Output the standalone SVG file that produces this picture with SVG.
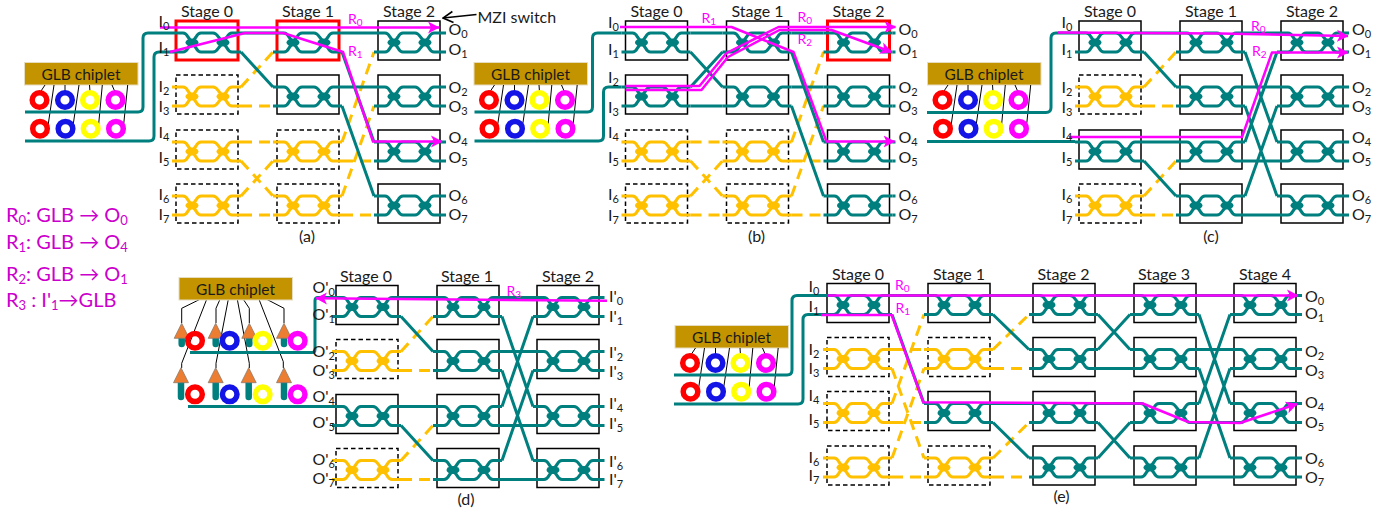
<svg xmlns="http://www.w3.org/2000/svg" width="1391" height="514" viewBox="0 0 1391 514">
<style>
text{font-family:Lato,"Open Sans","DejaVu Sans",sans-serif;font-size:16px;fill:#1a1a1a}
.sub{font-size:11px}
.st{text-anchor:middle}
.cap{text-anchor:middle;font-size:16px}
.chipt{text-anchor:middle;font-size:15.5px}
.rl{fill:#ff00ff;font-size:14px}
.rl .sub{font-size:10px}
.leg{fill:#cc00cc;font-size:20px}
.leg .sub{font-size:13px}
.tc,.oc,.route,.thin{fill:none}
.tc{stroke:#007f7f;stroke-width:3;stroke-linejoin:round}
.oc{stroke:#ffc000;stroke-width:3;stroke-dasharray:11 7}
.route{stroke:#ff00ff;stroke-width:2.5;stroke-linejoin:round}
.arr{marker-end:url(#ah)}
.thin{stroke:#000;stroke-width:1}
.bx{fill:none;stroke:#000;stroke-width:1.5}
.bd{fill:none;stroke:#000;stroke-width:1.5;stroke-dasharray:4.5 3}
.br{fill:none;stroke:#ff0000;stroke-width:3}
.chip{fill:#c49400;stroke:#e6dcc0;stroke-width:1}
.amp{fill:#ed7d31;stroke:#8a7a6a;stroke-width:.8}
.stem{stroke:#007f7f;stroke-width:6.5;stroke-linecap:round;fill:none}
</style>
<defs>
<marker id="ah" markerUnits="userSpaceOnUse" markerWidth="12" markerHeight="14" refX="11" refY="7" orient="auto"><path d="M0 1L11.5 7 0 13 3 7z" fill="#ff00ff"/></marker>
<marker id="bh" markerUnits="userSpaceOnUse" markerWidth="12" markerHeight="14" refX="11" refY="7" orient="auto"><path d="M1 1.5L11 7 1 12.5" fill="none" stroke="#000" stroke-width="1.6"/></marker>
<g id="mzi" fill="none" stroke="currentColor" stroke-width="3" stroke-linejoin="round">
<path d="M-4 0H7Q10 0 12 4L16 9.5 20 15Q22 19 25 19H37Q40 19 42.5 15L47 9.5 51 4Q53 0 56 0H65"/>
<path d="M-4 19H7Q10 19 12 15L16 9.5 20 4Q22 0 25 0H37Q40 0 42.5 4L47 9.5 51 15Q53 19 56 19H65"/>
<ellipse cx="16" cy="9.5" rx="6.5" ry="4" fill="currentColor" stroke="none"/>
<ellipse cx="47" cy="9.5" rx="6.5" ry="4" fill="currentColor" stroke="none"/>
</g>
<g id="nt" color="#007f7f"><rect class="bx" x="0" y="-12" width="62" height="39"/><use href="#mzi"/></g>
<g id="nr" color="#007f7f"><rect class="br" x="0" y="-12" width="62" height="39"/><use href="#mzi"/></g>
<g id="no" color="#ffc000"><rect class="bd" x="0" y="-12" width="62" height="39"/><use href="#mzi"/></g>
<g id="rings" fill="none" stroke-width="5.5">
<circle cx="39.5" cy="100" r="7.3" stroke="#ff0000"/><circle cx="65" cy="100" r="7.3" stroke="#1414e6"/><circle cx="90" cy="100" r="7.3" stroke="#ffff00"/><circle cx="115.5" cy="100" r="7.3" stroke="#ff00ff"/>
<circle cx="40" cy="128.7" r="7.3" stroke="#ff0000"/><circle cx="65.5" cy="128.7" r="7.3" stroke="#1414e6"/><circle cx="90.7" cy="128.7" r="7.3" stroke="#ffff00"/><circle cx="116" cy="128.7" r="7.3" stroke="#ff00ff"/>
</g>
<path id="taps" class="thin" d="M45 85L40 92.5M65 85V92M89.5 85L90 92M112 85L115 92M54 85L47.7 128M79 85L72.7 128M102.3 85L98.3 128M127.7 85L123.3 128"/>
<g id="ringsd" fill="none" stroke-width="5.5">
<circle cx="195" cy="340.7" r="7.3" stroke="#ff0000"/><circle cx="229.7" cy="340.7" r="7.3" stroke="#1414e6"/><circle cx="262.7" cy="340.7" r="7.3" stroke="#ffff00"/><circle cx="297.7" cy="340.7" r="7.3" stroke="#ff00ff"/>
<circle cx="195" cy="394.3" r="7.3" stroke="#ff0000"/><circle cx="229.7" cy="394.3" r="7.3" stroke="#1414e6"/><circle cx="262.7" cy="394.3" r="7.3" stroke="#ffff00"/><circle cx="297.7" cy="394.3" r="7.3" stroke="#ff00ff"/>
</g>
</defs>
<rect width="1391" height="514" fill="#fff"/>

<g id="panel-a">
<g id="a-chip"><rect class="chip" x="24.5" y="62.5" width="113.5" height="22.5"/><text class="chipt" x="81" y="79.5">GLB chiplet</text><use href="#taps"/><use href="#rings"/></g>
<g id="a-connectors">
<path class="tc" d="M25 112H138Q143 112 143 107V38Q143 33 148 33H172M25 141H149Q154 141 154 136V57Q154 52 159 52H172"/>
<path class="oc" d="M241 87L273 52M241 106H273M241 142H273M241 161L273 196M241 196L273 161M241 215H273M342 142L374 52M342 161H374M342 196L374 106M342 215H374"/>
<path class="tc" d="M241 33H273M241 52L273 87M342 33H374M342 52L374 142M342 87H374M342 106L374 196M443 33H446M443 52H446M443 87H446M443 106H446M443 142H446M443 161H446M443 196H446M443 215H446"/>
</g>
<g id="a-s0-0"><use href="#nr" x="176" y="33"/></g><g id="a-s0-1"><use href="#no" x="176" y="87"/></g><g id="a-s0-2"><use href="#no" x="176" y="142"/></g><g id="a-s0-3"><use href="#no" x="176" y="196"/></g>
<g id="a-s1-0"><use href="#nr" x="277" y="33"/></g><g id="a-s1-1"><use href="#nt" x="277" y="87"/></g><g id="a-s1-2"><use href="#no" x="277" y="142"/></g><g id="a-s1-3"><use href="#no" x="277" y="196"/></g>
<g id="a-s2-0"><use href="#nt" x="378" y="33"/></g><g id="a-s2-1"><use href="#nt" x="378" y="87"/></g><g id="a-s2-2"><use href="#nt" x="378" y="142"/></g><g id="a-s2-3"><use href="#nt" x="378" y="196"/></g>
<g id="a-routes"><path class="route arr" d="M160 27.5H439"/><path class="route arr" d="M170 52L245 33H283L343 52 373 141.5H442"/></g>
<g id="a-labels">
<text class="st" x="207" y="17">Stage 0</text><text class="st" x="308" y="17">Stage 1</text><text class="st" x="409" y="17">Stage 2</text>
<text x="158.5" y="27">I<tspan class="sub" dy="3">0</tspan></text><text x="158.5" y="53">I<tspan class="sub" dy="3">1</tspan></text><text x="158.5" y="92">I<tspan class="sub" dy="3">2</tspan></text><text x="158.5" y="112">I<tspan class="sub" dy="3">3</tspan></text><text x="158.5" y="138">I<tspan class="sub" dy="3">4</tspan></text><text x="158.5" y="163">I<tspan class="sub" dy="3">5</tspan></text><text x="158.5" y="200">I<tspan class="sub" dy="3">6</tspan></text><text x="158.5" y="220">I<tspan class="sub" dy="3">7</tspan></text>
<text x="448.5" y="35">O<tspan class="sub" dy="3">0</tspan></text><text x="448.5" y="55">O<tspan class="sub" dy="3">1</tspan></text><text x="448.5" y="92.5">O<tspan class="sub" dy="3">2</tspan></text><text x="448.5" y="111.5">O<tspan class="sub" dy="3">3</tspan></text><text x="448.5" y="142.5">O<tspan class="sub" dy="3">4</tspan></text><text x="448.5" y="163">O<tspan class="sub" dy="3">5</tspan></text><text x="448.5" y="201">O<tspan class="sub" dy="3">6</tspan></text><text x="448.5" y="220">O<tspan class="sub" dy="3">7</tspan></text>
<text class="rl" x="348" y="24">R<tspan class="sub" dy="2">0</tspan></text><text class="rl" x="348" y="56">R<tspan class="sub" dy="2">1</tspan></text>
<text class="cap" x="307" y="242">(a)</text>
</g>
</g>

<g id="mzi-note"><path d="M476.5 14.5L443 18" fill="none" stroke="#000" stroke-width="1.6" marker-end="url(#bh)"/><text x="477.5" y="23">MZI switch</text></g>

<g id="panel-b" transform="translate(449.5 0)">
<g id="b-chip"><rect class="chip" x="24.5" y="62.5" width="113.5" height="22.5"/><text class="chipt" x="81" y="79.5">GLB chiplet</text><use href="#taps"/><use href="#rings"/></g>
<g id="b-connectors">
<path class="tc" d="M25 112H138Q143 112 143 107V38Q143 33 148 33H172M25 141H149Q154 141 154 136V92Q154 87 159 87H172"/>
<path class="oc" d="M241 142H273M241 161L273 196M241 196L273 161M241 215H273M342 142L374 52M342 161H374M342 196L374 106M342 215H374"/>
<path class="tc" d="M241 33H273M241 52L273 87M241 87L273 52M241 106H273M342 33H374M342 52L374 142M342 87H374M342 106L374 196M443 33H446M443 52H446M443 87H446M443 106H446M443 142H446M443 161H446M443 196H446M443 215H446"/>
</g>
<g id="b-s0-0"><use href="#nt" x="176" y="33"/></g><g id="b-s0-1"><use href="#nt" x="176" y="87"/></g><g id="b-s0-2"><use href="#no" x="176" y="142"/></g><g id="b-s0-3"><use href="#no" x="176" y="196"/></g>
<g id="b-s1-0"><use href="#nt" x="277" y="33"/></g><g id="b-s1-1"><use href="#nt" x="277" y="87"/></g><g id="b-s1-2"><use href="#no" x="277" y="142"/></g><g id="b-s1-3"><use href="#no" x="277" y="196"/></g>
<g id="b-s2-0"><use href="#nr" x="378" y="33"/></g><g id="b-s2-1"><use href="#nt" x="378" y="87"/></g><g id="b-s2-2"><use href="#nt" x="378" y="142"/></g><g id="b-s2-3"><use href="#nt" x="378" y="196"/></g>
<g id="b-routes"><path class="route arr" d="M170.5 27H282L344 52 377 141.5H445"/><path class="route arr" d="M176 86H250L277 53 329 27H446"/><path class="route arr" d="M176 90H252L278.5 57 330 30H382L442 52"/></g>
<g id="b-labels">
<text class="st" x="207" y="17">Stage 0</text><text class="st" x="308" y="17">Stage 1</text><text class="st" x="409" y="17">Stage 2</text>
<text x="158.5" y="28">I<tspan class="sub" dy="3">0</tspan></text><text x="158.5" y="55">I<tspan class="sub" dy="3">1</tspan></text><text x="158.5" y="83">I<tspan class="sub" dy="3">2</tspan></text><text x="158.5" y="112.5">I<tspan class="sub" dy="3">3</tspan></text><text x="158.5" y="138">I<tspan class="sub" dy="3">4</tspan></text><text x="158.5" y="163">I<tspan class="sub" dy="3">5</tspan></text><text x="158.5" y="200">I<tspan class="sub" dy="3">6</tspan></text><text x="158.5" y="220.5">I<tspan class="sub" dy="3">7</tspan></text>
<text x="449" y="35">O<tspan class="sub" dy="3">0</tspan></text><text x="449" y="55">O<tspan class="sub" dy="3">1</tspan></text><text x="449" y="92.5">O<tspan class="sub" dy="3">2</tspan></text><text x="449" y="111.5">O<tspan class="sub" dy="3">3</tspan></text><text x="449" y="142.5">O<tspan class="sub" dy="3">4</tspan></text><text x="449" y="163">O<tspan class="sub" dy="3">5</tspan></text><text x="449" y="201">O<tspan class="sub" dy="3">6</tspan></text><text x="449" y="220">O<tspan class="sub" dy="3">7</tspan></text>
<text class="rl" x="252" y="23">R<tspan class="sub" dy="2">1</tspan></text><text class="rl" x="348" y="22">R<tspan class="sub" dy="2">0</tspan></text><text class="rl" x="348" y="44">R<tspan class="sub" dy="2">2</tspan></text>
<text class="cap" x="307" y="242">(b)</text>
</g>
</g>

<g id="panel-c" transform="translate(903 0)">
<g id="c-chip"><rect class="chip" x="24.5" y="62.5" width="113.5" height="22.5"/><text class="chipt" x="81" y="79.5">GLB chiplet</text><use href="#taps"/><use href="#rings"/></g>
<g id="c-connectors">
<path class="tc" d="M24 112.5H143Q148 112.5 148 107.5V38Q148 33 153 33H172M24 141.5H172"/>
<path class="oc" d="M241 87L273 52M241 106H273M241 196L273 161M241 215H273"/>
<path class="tc" d="M241 33H273M241 52L273 87M241 142H273M241 161L273 196M342 33H374M342 52L374 142M342 87H374M342 106L374 196M342 142L374 52M342 161H374M342 196L374 106M342 215H374M443 33H446M443 52H446M443 87H446M443 106H446M443 142H446M443 161H446M443 196H446M443 215H446"/>
</g>
<g id="c-s0-0"><use href="#nt" x="176" y="33"/></g><g id="c-s0-1"><use href="#no" x="176" y="87"/></g><g id="c-s0-2"><use href="#nt" x="176" y="142"/></g><g id="c-s0-3"><use href="#no" x="176" y="196"/></g>
<g id="c-s1-0"><use href="#nt" x="277" y="33"/></g><g id="c-s1-1"><use href="#nt" x="277" y="87"/></g><g id="c-s1-2"><use href="#nt" x="277" y="142"/></g><g id="c-s1-3"><use href="#nt" x="277" y="196"/></g>
<g id="c-s2-0"><use href="#nt" x="378" y="33"/></g><g id="c-s2-1"><use href="#nt" x="378" y="87"/></g><g id="c-s2-2"><use href="#nt" x="378" y="142"/></g><g id="c-s2-3"><use href="#nt" x="378" y="196"/></g>
<g id="c-routes"><path class="route arr" d="M155 32.5L318 33.5 445 36"/><path class="route arr" d="M166 137H339L369 52.5H445"/></g>
<g id="c-labels">
<text class="st" x="207" y="17">Stage 0</text><text class="st" x="308" y="17">Stage 1</text><text class="st" x="409" y="17">Stage 2</text>
<text x="158.5" y="28">I<tspan class="sub" dy="3">0</tspan></text><text x="158.5" y="55">I<tspan class="sub" dy="3">1</tspan></text><text x="158.5" y="93">I<tspan class="sub" dy="3">2</tspan></text><text x="158.5" y="112.5">I<tspan class="sub" dy="3">3</tspan></text><text x="158.5" y="138">I<tspan class="sub" dy="3">4</tspan></text><text x="158.5" y="163">I<tspan class="sub" dy="3">5</tspan></text><text x="158.5" y="200">I<tspan class="sub" dy="3">6</tspan></text><text x="158.5" y="220.5">I<tspan class="sub" dy="3">7</tspan></text>
<text x="449" y="35">O<tspan class="sub" dy="3">0</tspan></text><text x="449" y="55">O<tspan class="sub" dy="3">1</tspan></text><text x="449" y="92.5">O<tspan class="sub" dy="3">2</tspan></text><text x="449" y="111.5">O<tspan class="sub" dy="3">3</tspan></text><text x="449" y="142.5">O<tspan class="sub" dy="3">4</tspan></text><text x="449" y="163">O<tspan class="sub" dy="3">5</tspan></text><text x="449" y="201">O<tspan class="sub" dy="3">6</tspan></text><text x="449" y="220">O<tspan class="sub" dy="3">7</tspan></text>
<text class="rl" x="348" y="31">R<tspan class="sub" dy="2">0</tspan></text><text class="rl" x="349" y="56">R<tspan class="sub" dy="2">2</tspan></text>
<text class="cap" x="308" y="242">(c)</text>
</g>
</g>

<g id="panel-d">
<g id="d-chip">
<path class="stem" d="M181.7 338V344M215.7 338V344M249.3 338V344M284 338V344M181 383V397M215.7 383V397M248.7 383V397M284 383V397"/>
<path class="thin" d="M200 299.3L181.7 308.3V323M220 299.3L216 308.3V323M243.3 299.3L249.3 308.3V323M266.7 299.3L284 308.3V323M206.7 299.3L181.7 363.3V368M228.3 299.3L216 363.3V368M237.3 299.3L249.3 363.3V368M259 299.3L283.3 361.7V368"/>
<rect class="chip" x="179" y="277.5" width="113.5" height="22.5"/><text class="chipt" x="235.5" y="294.5">GLB chiplet</text>
<path class="amp" d="M181.7 323.3L189.2 338.3H174.2zM215.7 323.3L223.2 338.3H208.2zM249.3 323.3L256.8 338.3H241.8zM284 323.3L291.5 338.3H276.5zM181 367.7L188.5 382.7H173.5zM215.7 367.7L223.2 382.7H208.2zM248.7 367.7L256.2 382.7H241.2zM284 367.7L291.5 382.7H276.5z"/>
<use href="#ringsd"/>
</g>
<g id="d-connectors">
<path class="tc" d="M190 352.5H312Q315 352.5 315 349.5V300.5Q315 297.5 318 297.5H332M188 406.5H332"/>
<path class="oc" d="M401 351.5L433 316.5M401 370.5H433M401 460.5L433 425.5M401 479.5H433"/>
<path class="tc" d="M401 297.5H433M401 316.5L433 351.5M401 406.5H433M401 425.5L433 460.5M502 297.5H533M502 316.5L533 406.5M502 351.5H533M502 370.5L533 460.5M502 406.5L533 316.5M502 425.5H533M502 460.5L533 370.5M502 479.5H533M602 297.5H604.5M602 316.5H604.5M602 351.5H604.5M602 370.5H604.5M602 406.5H604.5M602 425.5H604.5M602 460.5H604.5M602 479.5H604.5"/>
</g>
<g id="d-s0-0"><use href="#nt" x="336" y="297.5"/></g><g id="d-s0-1"><use href="#no" x="336" y="351.5"/></g><g id="d-s0-2"><use href="#nt" x="336" y="406.5"/></g><g id="d-s0-3"><use href="#no" x="336" y="460.5"/></g>
<g id="d-s1-0"><use href="#nt" x="437" y="297.5"/></g><g id="d-s1-1"><use href="#nt" x="437" y="351.5"/></g><g id="d-s1-2"><use href="#nt" x="437" y="406.5"/></g><g id="d-s1-3"><use href="#nt" x="437" y="460.5"/></g>
<g id="d-s2-0"><use href="#nt" x="537" y="297.5"/></g><g id="d-s2-1"><use href="#nt" x="537" y="351.5"/></g><g id="d-s2-2"><use href="#nt" x="537" y="406.5"/></g><g id="d-s2-3"><use href="#nt" x="537" y="460.5"/></g>
<g id="d-routes"><path class="route arr" d="M607 300.7L316 298.3"/></g>
<g id="d-labels">
<text class="st" x="366" y="282">Stage 0</text><text class="st" x="467" y="282">Stage 1</text><text class="st" x="568" y="282">Stage 2</text>
<text x="312.5" y="293">O'<tspan class="sub" dy="3">0</tspan></text><text x="312.5" y="320">O'<tspan class="sub" dy="3">1</tspan></text><text x="312.5" y="356.5">O'<tspan class="sub" dy="3">2</tspan></text><text x="312.5" y="375.5">O'<tspan class="sub" dy="3">3</tspan></text><text x="312.5" y="401.5">O'<tspan class="sub" dy="3">4</tspan></text><text x="312.5" y="428">O'<tspan class="sub" dy="3">5</tspan></text><text x="312.5" y="465">O'<tspan class="sub" dy="3">6</tspan></text><text x="312.5" y="484">O'<tspan class="sub" dy="3">7</tspan></text>
<text x="609" y="301.5">I'<tspan class="sub" dy="3">0</tspan></text><text x="609" y="321.5">I'<tspan class="sub" dy="3">1</tspan></text><text x="609" y="358">I'<tspan class="sub" dy="3">2</tspan></text><text x="609" y="376.5">I'<tspan class="sub" dy="3">3</tspan></text><text x="609" y="409">I'<tspan class="sub" dy="3">4</tspan></text><text x="609" y="429">I'<tspan class="sub" dy="3">5</tspan></text><text x="609" y="466.5">I'<tspan class="sub" dy="3">6</tspan></text><text x="609" y="485">I'<tspan class="sub" dy="3">7</tspan></text>
<text class="rl" x="506.5" y="296">R<tspan class="sub" dy="2">3</tspan></text>
<text class="cap" x="466" y="505">(d)</text>
</g>
</g>

<g id="panel-e">
<g id="e-chip" transform="translate(650.5 263)"><rect class="chip" x="24.5" y="62.5" width="113.5" height="22.5"/><text class="chipt" x="81" y="79.5">GLB chiplet</text><use href="#taps"/><use href="#rings"/></g>
<g id="e-connectors">
<path class="tc" d="M674 375H787Q792 375 792 370V300.5Q792 295.5 797 295.5H823M674 404H798Q803 404 803 399V319.5Q803 314.5 808 314.5H823"/>
<path class="oc" d="M892 349.5H924M892 368.5L924 458M892 403.5L924 314.5M892 422.5H924M892 458L924 368.5M892 477H924M993 349.5L1029 314.5M993 368.5H1029M993 458L1029 422.5M993 477H1029"/>
<path class="tc" d="M892 295.5H924M892 314.5L924 403.5M993 295.5H1029M993 314.5L1029 349.5M993 403.5H1029M993 422.5L1029 458M1098 295.5H1130M1098 314.5L1130 349.5M1098 349.5L1130 314.5M1098 368.5H1130M1098 403.5H1130M1098 422.5L1130 458M1098 458L1130 422.5M1098 477H1130M1199 295.5H1230M1199 314.5L1230 403.5M1199 349.5H1230M1199 368.5L1230 458M1199 403.5L1230 314.5M1199 422.5H1230M1199 458L1230 368.5M1199 477H1230M1299 295.5H1302M1299 314.5H1302M1299 349.5H1302M1299 368.5H1302M1299 403.5H1302M1299 422.5H1302M1299 458H1302M1299 477H1302"/>
</g>
<g id="e-s0-0"><use href="#nt" x="827" y="295.5"/></g><g id="e-s0-1"><use href="#no" x="827" y="349.5"/></g><g id="e-s0-2"><use href="#no" x="827" y="403.5"/></g><g id="e-s0-3"><use href="#no" x="827" y="458"/></g>
<g id="e-s1-0"><use href="#nt" x="928" y="295.5"/></g><g id="e-s1-1"><use href="#no" x="928" y="349.5"/></g><g id="e-s1-2"><use href="#nt" x="928" y="403.5"/></g><g id="e-s1-3"><use href="#no" x="928" y="458"/></g>
<g id="e-s2-0"><use href="#nt" x="1033" y="295.5"/></g><g id="e-s2-1"><use href="#nt" x="1033" y="349.5"/></g><g id="e-s2-2"><use href="#nt" x="1033" y="403.5"/></g><g id="e-s2-3"><use href="#nt" x="1033" y="458"/></g>
<g id="e-s3-0"><use href="#nt" x="1134" y="295.5"/></g><g id="e-s3-1"><use href="#nt" x="1134" y="349.5"/></g><g id="e-s3-2"><use href="#nt" x="1134" y="403.5"/></g><g id="e-s3-3"><use href="#nt" x="1134" y="458"/></g>
<g id="e-s4-0"><use href="#nt" x="1234" y="295.5"/></g><g id="e-s4-1"><use href="#nt" x="1234" y="349.5"/></g><g id="e-s4-2"><use href="#nt" x="1234" y="403.5"/></g><g id="e-s4-3"><use href="#nt" x="1234" y="458"/></g>
<g id="e-routes"><path class="route arr" d="M828 295.5H1298"/><path class="route arr" d="M821 315H891.7L923.3 402.3 1142.7 403.5 1188.3 422 1240 423 1297 404"/></g>
<g id="e-labels">
<text class="st" x="858" y="280">Stage 0</text><text class="st" x="959" y="280">Stage 1</text><text class="st" x="1063.5" y="280">Stage 2</text><text class="st" x="1164" y="280">Stage 3</text><text class="st" x="1265" y="280">Stage 4</text>
<text x="808.5" y="291.5">I<tspan class="sub" dy="3">0</tspan></text><text x="808.5" y="311.5">I<tspan class="sub" dy="3">1</tspan></text><text x="808.5" y="355">I<tspan class="sub" dy="3">2</tspan></text><text x="808.5" y="373.5">I<tspan class="sub" dy="3">3</tspan></text><text x="808.5" y="400.5">I<tspan class="sub" dy="3">4</tspan></text><text x="808.5" y="425">I<tspan class="sub" dy="3">5</tspan></text><text x="808.5" y="462.5">I<tspan class="sub" dy="3">6</tspan></text><text x="808.5" y="480.5">I<tspan class="sub" dy="3">7</tspan></text>
<text x="1305" y="301.5">O<tspan class="sub" dy="3">0</tspan></text><text x="1305" y="318.5">O<tspan class="sub" dy="3">1</tspan></text><text x="1305" y="356.5">O<tspan class="sub" dy="3">2</tspan></text><text x="1305" y="375.5">O<tspan class="sub" dy="3">3</tspan></text><text x="1305" y="407.5">O<tspan class="sub" dy="3">4</tspan></text><text x="1305" y="427.5">O<tspan class="sub" dy="3">5</tspan></text><text x="1305" y="463.5">O<tspan class="sub" dy="3">6</tspan></text><text x="1305" y="482.5">O<tspan class="sub" dy="3">7</tspan></text>
<text class="rl" x="895" y="290">R<tspan class="sub" dy="2">0</tspan></text><text class="rl" x="895.5" y="313">R<tspan class="sub" dy="2">1</tspan></text>
<text class="cap" x="1061.5" y="502">(e)</text>
</g>
</g>

<g id="legend">
<text class="leg" x="6" y="222">R<tspan class="sub" dy="3">0</tspan><tspan dy="-3">: GLB → O</tspan><tspan class="sub" dy="3">0</tspan></text>
<text class="leg" x="6" y="249">R<tspan class="sub" dy="3">1</tspan><tspan dy="-3">: GLB → O</tspan><tspan class="sub" dy="3">4</tspan></text>
<text class="leg" x="6" y="281">R<tspan class="sub" dy="3">2</tspan><tspan dy="-3">: GLB → O</tspan><tspan class="sub" dy="3">1</tspan></text>
<text class="leg" x="6" y="307">R<tspan class="sub" dy="3">3</tspan><tspan dy="-3"> : I'</tspan><tspan class="sub" dy="3">1</tspan><tspan dy="-3">→GLB</tspan></text>
</g>
</svg>
